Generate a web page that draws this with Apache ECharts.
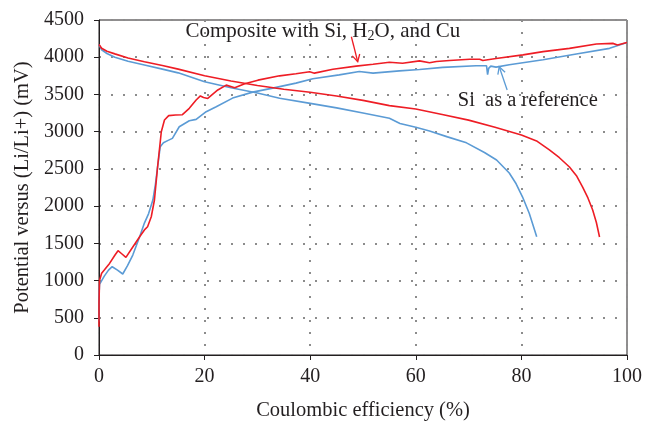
<!DOCTYPE html>
<html><head><meta charset="utf-8">
<script src="https://cdn.jsdelivr.net/npm/echarts@6/dist/echarts.min.js"></script>
<style>html,body{margin:0;padding:0;background:#fff}#c{width:645px;height:421px}</style>
</head><body><div id="c"></div>
<script>
// ---- data ----
const xTicks = [0, 20, 40, 60, 80, 100];
const yTicks = [0, 500, 1000, 1500, 2000, 2500, 3000, 3500, 4000, 4500];

// Composite with Si, H2O, and Cu (red) - rising branch
const redUpX = [0, 0, 0.1, 0.5, 1.0, 2.0, 3.0, 3.6, 4.3, 5.1, 6.4, 7.7, 8.6, 9.2, 9.9, 10.5, 11.1, 11.8, 12.4, 13.2, 14.5, 15.8, 17.1, 18.4, 19.2, 19.8, 20.6, 22.5, 24.1, 25.7, 27.6, 30.1, 34.2, 37.3, 39.9, 40.8, 44.3, 48.7, 51.9, 55.0, 57.5, 60.7, 62.6, 63.9, 66.4, 70.2, 72.1, 72.7, 75.2, 80.3, 84.1, 89.1, 94.2, 97.3, 98.2, 100];
const redUpY = [380, 700, 1000, 1097, 1141, 1230, 1340, 1401, 1360, 1312, 1450, 1589, 1680, 1723, 1857, 2082, 2529, 2999, 3156, 3215, 3223, 3228, 3313, 3425, 3480, 3460, 3446, 3560, 3625, 3590, 3643, 3692, 3750, 3777, 3804, 3786, 3839, 3880, 3906, 3933, 3920, 3951, 3925, 3942, 3956, 3973, 3973, 3956, 3982, 4031, 4075, 4119, 4177, 4186, 4164, 4199];
// red - falling branch
const redDownX = [0, 0.5, 1.5, 3, 5.5, 8.6, 12, 15, 20, 25, 30, 35, 40, 45, 50, 55, 60, 65, 70, 75, 80, 83, 85.3, 87.2, 89.1, 90.5, 91.6, 92.6, 93.5, 94.2, 94.8];
const redDownY = [4170, 4120, 4080, 4045, 3990, 3940, 3890, 3840, 3750, 3680, 3620, 3570, 3530, 3480, 3420, 3350, 3305, 3230, 3155, 3060, 2955, 2870, 2755, 2650, 2525, 2400, 2256, 2110, 1947, 1780, 1585];

// Si as a reference (blue) - rising branch
const blueUpX = [0, 0, 0.1, 0.4, 1.0, 1.8, 2.5, 3.5, 4.5, 5.4, 6.4, 7.7, 8.6, 9.4, 10.2, 10.7, 11.1, 11.6, 12.2, 13.0, 13.9, 15.2, 17.1, 18.4, 20.3, 22.2, 25.3, 29.1, 32.9, 37.3, 40.5, 45.5, 49.3, 51.9, 56.9, 60.7, 65.1, 71.4, 73.4, 73.6, 73.8, 74.2, 75.2, 77.7, 84.1, 90.4, 96.7, 100];
const blueUpY = [450, 800, 950, 985, 1060, 1140, 1186, 1140, 1088, 1200, 1343, 1589, 1772, 1900, 2082, 2300, 2529, 2798, 2851, 2880, 2910, 3066, 3147, 3165, 3268, 3335, 3451, 3531, 3585, 3652, 3710, 3763, 3808, 3786, 3817, 3835, 3863, 3885, 3885, 3765, 3850, 3880, 3867, 3898, 3965, 4044, 4119, 4199];
// blue - falling branch
const blueDownX = [0, 0.5, 1.5, 3, 5.5, 8.6, 12, 15, 20, 25, 30, 34.2, 40, 45, 50, 55, 57, 60, 62.6, 66, 69.6, 73, 75.3, 77.7, 79, 80.2, 81.5, 82.9];
const blueDownY = [4170, 4100, 4050, 4000, 3945, 3895, 3840, 3790, 3670, 3590, 3520, 3450, 3380, 3320, 3250, 3180, 3110, 3060, 3010, 2930, 2850, 2720, 2620, 2445, 2300, 2125, 1900, 1590];

// annotations (data coordinates)
const compositeLabelAt = [42.4, 4351];
const referenceLabelAt = [81.2, 3411];
const compositeArrow = [[47.8, 4275], [49.0, 3939]];
const referenceArrow = [[77.3, 3559], [75.8, 3872]];

const RED = '#ee1d25', BLUE = '#5b9bd5', INK = '#231f20';
const FONT = '"Liberation Serif", "DejaVu Serif", serif';

const pairs = (xs, ys) => xs.map((x, i) => [x, ys[i]]);

const chart = echarts.init(document.getElementById('c'), null, {renderer: 'canvas'});

const gridLine = {show: true, lineStyle: {color: '#8c8c8c', width: 2, type: [2, 10]}};
const axisCommon = {
  axisLine: {show: true, lineStyle: {color: INK, width: 1}},
  axisTick: {show: true, inside: false, length: 5, lineStyle: {color: INK}},
  axisLabel: {color: INK, fontSize: 20, fontFamily: FONT, formatter: v => String(v)},
  nameTextStyle: {color: INK, fontSize: 20.5, fontFamily: FONT},
  splitLine: gridLine
};

function lineSeries(name, xs, ys, color) {
  return {
    name, type: 'line', data: pairs(xs, ys), showSymbol: false, symbol: 'none',
    lineStyle: {color, width: 1.6}, itemStyle: {color}, smooth: false, z: 3
  };
}

chart.setOption({
  animation: false,
  backgroundColor: '#fff',
  grid: {left: 99, right: 18, top: 20, bottom: 66, show: true, borderColor: INK, borderWidth: 1,
         containLabel: false, outerBoundsMode: 'none'},
  xAxis: Object.assign({}, axisCommon, {
    type: 'value', min: xTicks[0], max: xTicks[xTicks.length - 1], interval: 20,
    name: 'Coulombic efficiency (%)', nameLocation: 'middle', nameGap: 45,
    axisLabel: Object.assign({}, axisCommon.axisLabel, {margin: 12})
  }),
  yAxis: Object.assign({}, axisCommon, {
    type: 'value', min: yTicks[0], max: yTicks[yTicks.length - 1], interval: 500,
    name: 'Potential versus (Li/Li+) (mV)', nameLocation: 'middle', nameGap: 59,
    axisLabel: Object.assign({}, axisCommon.axisLabel, {margin: 15})
  }),
  series: [
    lineSeries('Si as a reference (charge)', blueUpX, blueUpY, BLUE),
    lineSeries('Si as a reference (discharge)', blueDownX, blueDownY, BLUE),
    lineSeries('Composite (charge)', redUpX, redUpY, RED),
    lineSeries('Composite (discharge)', redDownX, redDownY, RED)
  ]
});

function px(p) { return chart.convertToPixel({gridIndex: 0}, p); }
function arrow(a, color) {
  const p0 = px(a[0]), p1 = px(a[1]);
  const ang = Math.atan2(p1[1] - p0[1], p1[0] - p0[0]);
  const L = 8, w = 0.5;
  const b1 = [p1[0] - L * Math.cos(ang - w), p1[1] - L * Math.sin(ang - w)];
  const b2 = [p1[0] - L * Math.cos(ang + w), p1[1] - L * Math.sin(ang + w)];
  return [
    {type: 'polyline', shape: {points: [p0, p1]}, style: {stroke: color, lineWidth: 1.3, fill: null}, z: 10},
    {type: 'polyline', shape: {points: [b1, p1, b2]}, style: {stroke: color, lineWidth: 1.3, fill: null}, z: 10}
  ];
}
const cl = px(compositeLabelAt), rl = px(referenceLabelAt);
chart.setOption({
  graphic: [
    {type: 'text', x: cl[0], y: cl[1], z: 10, style: {
      text: '{n|Composite with Si, H}{s|2}{n|O, and Cu}', align: 'center', verticalAlign: 'middle',
      rich: {n: {fontSize: 21, fontFamily: FONT, fill: INK, lineHeight: 24},
             s: {fontSize: 14, fontFamily: FONT, fill: INK, lineHeight: 10, verticalAlign: 'bottom'}}
    }},
    {type: 'text', x: rl[0], y: rl[1], z: 10, style: {
      text: 'Si  as a reference', align: 'center', verticalAlign: 'middle',
      fontSize: 20.5, fontFamily: FONT, fill: INK
    }}
  ].concat(arrow(compositeArrow, RED), arrow(referenceArrow, BLUE))
});
</script>
</body></html>
